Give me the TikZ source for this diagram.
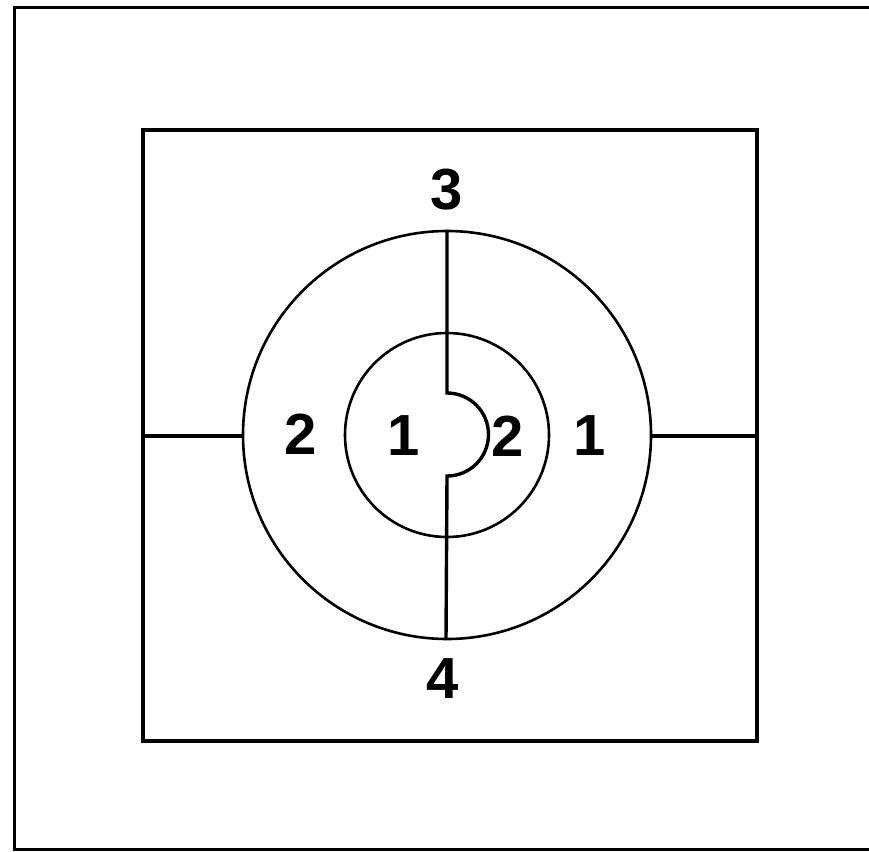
\documentclass[tikz,border=0pt]{standalone}
\usepackage{fontspec}
\setmainfont{Liberation Sans}
\begin{document}
\begin{tikzpicture}[x=1pt,y=-1pt,
  frame/.style={line width=3pt},
  sq/.style={line width=4.5pt},
  ring/.style={line width=2.6pt},
  wire/.style={line width=3.4pt},
  lbl/.style={inner sep=0pt,font=\fontsize{58}{58}\selectfont\bfseries}]
\useasboundingbox (0,0) rectangle (869,851);
\begin{scope}
\clip (0,0) rectangle (869,851);
\draw[frame] (890,8) -- (14,8) -- (14,849) -- (890,849);
\end{scope}
\draw[sq] (143,130) rectangle (757,741);
\coordinate (C) at (447,435);
\draw[ring] (C) circle[radius=204];
\draw[ring] (C) circle[radius=102];
\coordinate (top) at (447,231);
\coordinate (bot) at (446,639);
\coordinate (n1) at (447,393);
\coordinate (n2) at (446,476);
\coordinate (L1) at (143,436);
\coordinate (L2) at (243,436);
\coordinate (R1) at (651,436);
\coordinate (R2) at (757,436);
\draw[wire] (top) -- (n1) arc[start angle=-90,end angle=90,radius=41.5] -- (bot);
\draw[wire] (L1) -- (L2);
\draw[wire] (R1) -- (R2);
\node[lbl] (t3) at (447,190) {3};
\node[lbl] (t4) at (443,679) {4};
\node[lbl] (a2) at (301,434) {2};
\node[lbl] (a1) at (404,436) {1};
\node[lbl] (b2) at (508,436) {2};
\node[lbl] (b1) at (590,436) {1};
\end{tikzpicture}
\end{document}
